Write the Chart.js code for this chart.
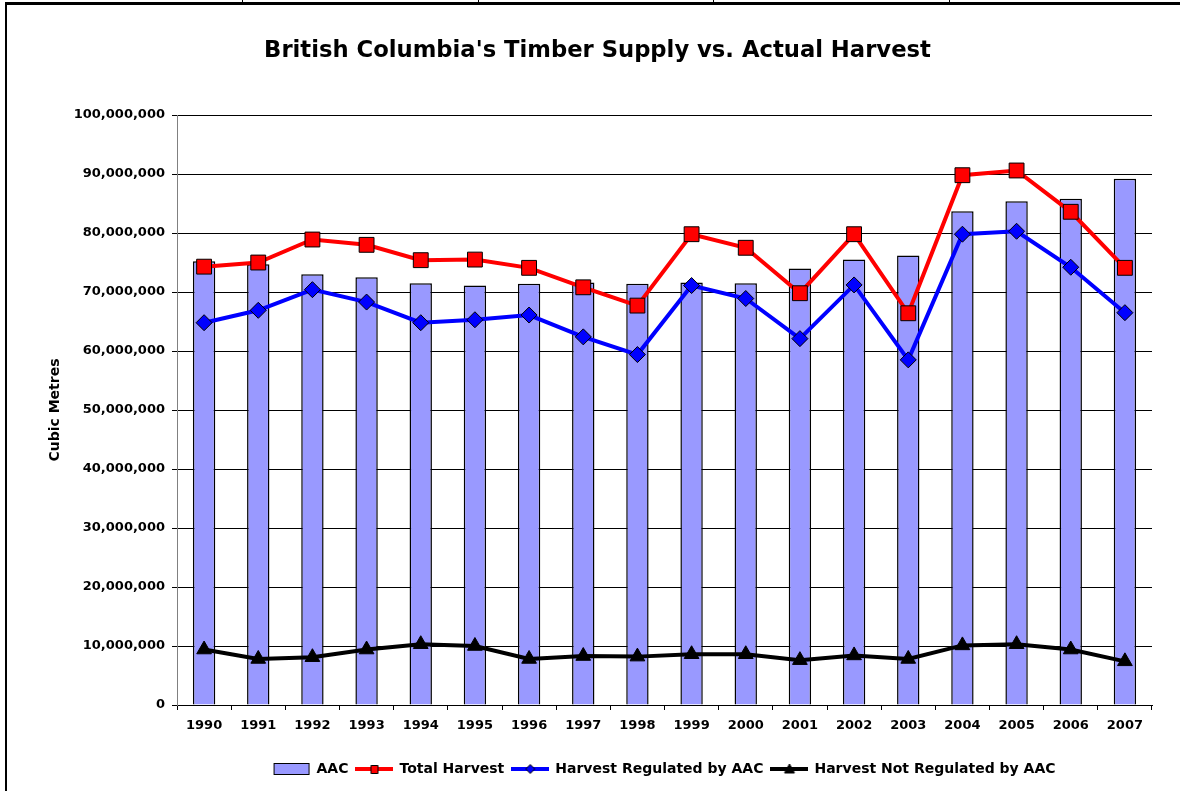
<!DOCTYPE html>
<html>
<head>
<meta charset="utf-8">
<script src="https://cdn.jsdelivr.net/npm/chart.js@4.4.1/dist/chart.umd.min.js"></script>
<style>
  body { margin: 0; background: #fff; }
  #wrap { position: relative; width: 1180px; height: 791px; overflow: hidden; }
  #chart { position: absolute; left: 0; top: 0; }
  .ln { position: absolute; background: #000; }
</style>
</head>
<body>
<div id="wrap">
  <canvas id="chart" width="1180" height="791"></canvas>
  <!-- bordes de la hoja -->
  <div class="ln" style="left:5px;top:2px;width:1175px;height:3px"></div>
  <div class="ln" style="left:5px;top:2px;width:2px;height:789px"></div>
  <div class="ln" style="left:242px;top:0;width:1px;height:3px"></div>
  <div class="ln" style="left:478px;top:0;width:1px;height:3px"></div>
  <div class="ln" style="left:713px;top:0;width:1px;height:3px"></div>
  <div class="ln" style="left:949px;top:0;width:1px;height:3px"></div>
</div>
<script>
const years = ['1990', '1991', '1992', '1993', '1994', '1995', '1996', '1997', '1998',
    '1999', '2000', '2001', '2002', '2003', '2004', '2005', '2006', '2007'];

const aac = [75200000, 74700000, 73000000, 72500000, 71500000, 71100000, 71400000, 71600000, 71400000,
    71600000, 71500000, 74000000, 75500000, 76200000, 83700000, 85400000, 85800000, 89200000];

const totalHarvest = [74300000, 75000000, 78900000, 78000000, 75400000, 75500000, 74100000, 70800000, 67700000,
    79800000, 77500000, 69800000, 79800000, 66400000, 89800000, 90600000, 83600000, 74100000];

const regulated = [64800000, 66900000, 70400000, 68300000, 64800000, 65300000, 66100000, 62400000, 59400000,
    71100000, 68900000, 62100000, 71200000, 58500000, 79800000, 80300000, 74200000, 66500000];

const notRegulated = [9400000, 7800000, 8100000, 9400000, 10300000, 10000000, 7800000, 8300000, 8200000,
    8600000, 8600000, 7600000, 8400000, 7800000, 10100000, 10300000, 9400000, 7400000];

const FONT = 'DejaVu Sans';

// Iconos de la leyenda (línea + marcador, como en Excel)
function icono(tipo, color) {
    const c = document.createElement('canvas');
    c.width = 38;
    c.height = 14;
    const g = c.getContext('2d');
    if (tipo === 'bar') {
        g.fillStyle = color;
        g.fillRect(1.5, 1.5, 35, 11);
        g.strokeStyle = '#000';
        g.lineWidth = 1;
        g.strokeRect(1.5, 1.5, 35, 11);
        return c;
    }
    g.strokeStyle = color;
    g.lineWidth = 4;
    g.beginPath();
    g.moveTo(0, 7);
    g.lineTo(38, 7);
    g.stroke();
    g.fillStyle = color;
    g.strokeStyle = '#000';
    g.lineWidth = 1;
    g.beginPath();
    if (tipo === 'rect') {
        g.rect(15.5, 3.5, 7, 8);
    } else if (tipo === 'diamond') {
        g.moveTo(19, 2.5); g.lineTo(23.5, 7); g.lineTo(19, 11.5); g.lineTo(14.5, 7); g.closePath();
    } else {
        g.moveTo(19, 2); g.lineTo(24, 11); g.lineTo(14, 11); g.closePath();
    }
    g.fill();
    g.stroke();
    return c;
}

const iconos = [
    icono('bar', '#9999FF'),
    icono('rect', '#FF0000'),
    icono('diamond', '#0000FF'),
    icono('triangle', '#000000')
];

const ctx = document.getElementById('chart').getContext('2d');

new Chart(ctx, {
    type: 'bar',
    data: {
        labels: years,
        datasets: [{
            type: 'bar',
            label: 'AAC',
            data: aac,
            backgroundColor: '#9999FF',
            borderColor: '#000000',
            borderWidth: 1.5,
            barPercentage: 0.413,
            categoryPercentage: 1,
            order: 4
        }, {
            type: 'line',
            label: 'Total Harvest',
            data: totalHarvest,
            borderColor: '#FF0000',
            borderWidth: 4,
            pointStyle: 'rect',
            pointRadius: 10.5,
            pointBackgroundColor: '#FF0000',
            pointBorderColor: '#000000',
            pointBorderWidth: 1,
            tension: 0,
            order: 1
        }, {
            type: 'line',
            label: 'Harvest Regulated by AAC',
            data: regulated,
            borderColor: '#0000FF',
            borderWidth: 4,
            pointStyle: 'rectRot',
            pointRadius: 8,
            pointBackgroundColor: '#0000FF',
            pointBorderColor: '#000000',
            pointBorderWidth: 1,
            tension: 0,
            order: 2
        }, {
            type: 'line',
            label: 'Harvest Not Regulated by AAC',
            data: notRegulated,
            borderColor: '#000000',
            borderWidth: 4,
            pointStyle: 'triangle',
            pointRadius: 8.5,
            pointBackgroundColor: '#000000',
            pointBorderColor: '#000000',
            pointBorderWidth: 1,
            tension: 0,
            order: 3
        }]
    },
    options: {
        responsive: false,
        animation: false,
        devicePixelRatio: 1,
        layout: {
            padding: { left: 43, right: 28, top: 0, bottom: 5 }
        },
        plugins: {
            title: {
                display: true,
                text: "British Columbia's Timber Supply vs. Actual Harvest",
                color: '#000',
                font: { family: FONT, size: 22.7, weight: 'bold', lineHeight: 1.2 },
                padding: { top: 37.4, bottom: 50.4 }
            },
            legend: {
                position: 'bottom',
                fullSize: false,
                labels: {
                    usePointStyle: true,
                    pointStyleWidth: 36,
                    padding: 8,
                    color: '#000',
                    font: { family: FONT, size: 14, weight: 'bold' },
                    generateLabels: function(chart) {
                        return chart.data.datasets.map((d, i) => ({
                            text: d.label,
                            pointStyle: iconos[i],
                            fillStyle: 'transparent',
                            strokeStyle: 'transparent',
                            lineWidth: 0,
                            hidden: false,
                            fontColor: '#000',
                            datasetIndex: i
                        }));
                    }
                }
            },
            tooltip: { enabled: false }
        },
        scales: {
            x: {
                offset: true,
                grid: {
                    offset: true,
                    drawOnChartArea: false,
                    drawTicks: true,
                    tickLength: 5,
                    color: '#000',
                    tickColor: '#000'
                },
                border: { color: '#000', width: 1 },
                ticks: {
                    color: '#000',
                    padding: 8,
                    maxRotation: 0,
                    autoSkip: false,
                    font: { family: FONT, size: 13, weight: 'bold' }
                },
                afterFit: function(scale) {
                    scale.height = 49;
                }
            },
            y: {
                min: 0,
                max: 100000000,
                grid: {
                    color: '#000',
                    tickColor: '#000',
                    tickLength: 5,
                    lineWidth: 1
                },
                border: { color: '#808080', width: 1 },
                ticks: {
                    stepSize: 10000000,
                    color: '#000',
                    padding: 7,
                    font: { family: FONT, size: 13, weight: 'bold' },
                    callback: v => v.toLocaleString('en-US')
                },
                title: {
                    display: true,
                    text: 'Cubic Metres',
                    color: '#000',
                    font: { family: FONT, size: 14, weight: 'bold' }
                },
                afterFit: function(scale) {
                    scale.width = 134;
                }
            }
        }
    }
});
</script>
</body>
</html>
